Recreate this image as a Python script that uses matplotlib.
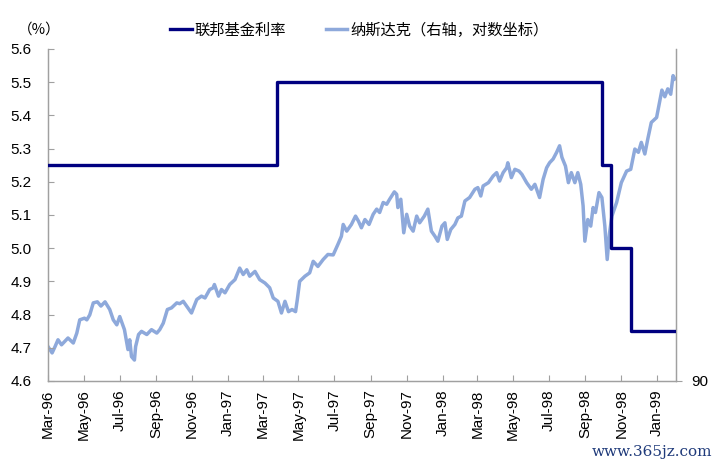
import matplotlib
matplotlib.use("Agg")
import matplotlib.pyplot as plt
import matplotlib.dates as mdates
import numpy as np
import pandas as pd

plt.rcParams['font.family'] = ['Liberation Sans', 'Noto Sans CJK SC']

# fed funds target rate (%), step changes
fed_dates = ['1996-03-01', '1997-03-25', '1998-09-29', '1998-10-15', '1998-11-17', '1999-02-01']
fed_rate = [5.25, 5.50, 5.25, 5.00, 4.75, 4.75]

# nasdaq composite (right axis, log)
nasdaq_dates = [
    '1996-03-01', '1996-03-08', '1996-03-13', '1996-03-18', '1996-03-24', '1996-04-04',
    '1996-04-13', '1996-04-19', '1996-04-24', '1996-05-02', '1996-05-06', '1996-05-11',
    '1996-05-17', '1996-05-24', '1996-05-30', '1996-06-06', '1996-06-14', '1996-06-20',
    '1996-06-26', '1996-07-01', '1996-07-09', '1996-07-15', '1996-07-18', '1996-07-21',
    '1996-07-26', '1996-07-28', '1996-08-02', '1996-08-07', '1996-08-16', '1996-08-24',
    '1996-09-02', '1996-09-07', '1996-09-13', '1996-09-20', '1996-09-27', '1996-10-06',
    '1996-10-11', '1996-10-17', '1996-10-25', '1996-10-31', '1996-11-09', '1996-11-17',
    '1996-11-23', '1996-12-01', '1996-12-07', '1996-12-09', '1996-12-16', '1996-12-21',
    '1996-12-27', '1997-01-04', '1997-01-13', '1997-01-21', '1997-01-27', '1997-02-02',
    '1997-02-07', '1997-02-16', '1997-02-24', '1997-03-05', '1997-03-13', '1997-03-19',
    '1997-03-27', '1997-04-02', '1997-04-08', '1997-04-14', '1997-04-20', '1997-04-26',
    '1997-04-29', '1997-05-03', '1997-05-12', '1997-05-20', '1997-05-26', '1997-06-03',
    '1997-06-12', '1997-06-20', '1997-06-29', '1997-07-07', '1997-07-13', '1997-07-16',
    '1997-07-22', '1997-07-30', '1997-08-06', '1997-08-11', '1997-08-16', '1997-08-22',
    '1997-08-29', '1997-09-05', '1997-09-11', '1997-09-16', '1997-09-22', '1997-09-28',
    '1997-10-03', '1997-10-11', '1997-10-15', '1997-10-17', '1997-10-22', '1997-10-27',
    '1997-11-01', '1997-11-06', '1997-11-12', '1997-11-18', '1997-11-23', '1997-12-01',
    '1997-12-07', '1997-12-13', '1997-12-19', '1997-12-24', '1997-12-31', '1998-01-05',
    '1998-01-09', '1998-01-15', '1998-01-22', '1998-01-27', '1998-02-02', '1998-02-08',
    '1998-02-16', '1998-02-25', '1998-03-02', '1998-03-07', '1998-03-11', '1998-03-20',
    '1998-03-28', '1998-04-03', '1998-04-08', '1998-04-14', '1998-04-20', '1998-04-22',
    '1998-04-28', '1998-05-04', '1998-05-11', '1998-05-16', '1998-05-24', '1998-06-01',
    '1998-06-07', '1998-06-15', '1998-06-21', '1998-06-27', '1998-07-02', '1998-07-08',
    '1998-07-14', '1998-07-19', '1998-07-23', '1998-07-29', '1998-08-03', '1998-08-08',
    '1998-08-14', '1998-08-19', '1998-08-24', '1998-08-28', '1998-08-31', '1998-09-05',
    '1998-09-10', '1998-09-14', '1998-09-18', '1998-09-24', '1998-09-29', '1998-10-04',
    '1998-10-08', '1998-10-12', '1998-10-16', '1998-10-24', '1998-11-01', '1998-11-10',
    '1998-11-17', '1998-11-24', '1998-11-30', '1998-12-05', '1998-12-11', '1998-12-16',
    '1998-12-22', '1998-12-31', '1999-01-05', '1999-01-09', '1999-01-14', '1999-01-19',
    '1999-01-24', '1999-01-28', '1999-01-31',
]
nasdaq_values = [
    1092, 1071, 1092, 1115, 1098, 1121,
    1104, 1138, 1185, 1191, 1185, 1203,
    1248, 1252, 1236, 1252, 1223, 1185,
    1167, 1197, 1150, 1082, 1115, 1059,
    1048, 1092, 1133, 1144, 1133, 1150,
    1138, 1150, 1173, 1223, 1229, 1248,
    1245, 1254, 1229, 1210, 1261, 1274,
    1267, 1300, 1307, 1320, 1274, 1300,
    1287, 1320, 1340, 1388, 1361, 1381,
    1354, 1374, 1340, 1326, 1307, 1267,
    1254, 1210, 1254, 1215, 1223, 1215,
    1261, 1333, 1354, 1368, 1417, 1395,
    1425, 1447, 1445, 1492, 1530, 1586,
    1554, 1586, 1627, 1602, 1570, 1610,
    1586, 1636, 1662, 1645, 1696, 1687,
    1713, 1752, 1739, 1670, 1713, 1546,
    1636, 1578, 1554, 1627, 1594, 1627,
    1662, 1554, 1530, 1507, 1578, 1594,
    1515, 1562, 1586, 1618, 1627, 1704,
    1722, 1766, 1775, 1730, 1784, 1802,
    1839, 1858, 1811, 1858, 1886, 1915,
    1830, 1877, 1867, 1848, 1802, 1766,
    1793, 1722, 1820, 1886, 1915, 1937,
    1977, 2017, 1947, 1896, 1802, 1858,
    1802, 1858, 1793, 1679, 1507, 1610,
    1578, 1670, 1645, 1748, 1722, 1578,
    1425, 1546, 1627, 1696, 1802, 1867,
    1877, 1997, 1977, 2038, 1967, 2059,
    2166, 2199, 2304, 2391, 2343, 2400,
    2361, 2499, 2474,
]

left_ticks = [4.6, 4.7, 4.8, 4.9, 5.0, 5.1, 5.2, 5.3, 5.4, 5.5, 5.6]

fed_color = '#000080'
nasdaq_color = '#8EA9DB'
spine_color = '#A0A0A0'

fig = plt.figure(figsize=(7.19, 4.66), dpi=100)
ax = fig.add_axes([48 / 719, 1 - 381 / 466, 628 / 719, 332 / 466])
ax2 = ax.twinx()

# fed funds on left axis
ax.step(pd.to_datetime(fed_dates), fed_rate, where='post', color=fed_color, lw=2.4,
        label='联邦基金利率', zorder=3)

# nasdaq on right log axis
ax2.plot(pd.to_datetime(nasdaq_dates), nasdaq_values, color=nasdaq_color, lw=2.5,
         label='纳斯达克（右轴，对数坐标）')
ax2.set_yscale('log')
ax2.set_ylim(983, 2711)
ax2.set_yticks([983])
ax2.set_yticklabels(['90'])
ax2.yaxis.set_minor_locator(matplotlib.ticker.NullLocator())
ax2.tick_params(axis='y', direction='out', length=4, width=0.8, color=spine_color,
                labelsize=11, pad=7)

# left axis
ax.set_ylim(4.6, 5.6)
ax.set_yticks(left_ticks)
ax.yaxis.set_major_formatter(matplotlib.ticker.FormatStrFormatter('%.1f'))
ax.tick_params(axis='y', direction='in', length=4, width=0.8, color=spine_color,
               labelsize=11, pad=12)

# date axis
ax.set_xlim(pd.Timestamp('1996-03-01'), pd.Timestamp('1999-02-02'))
ax.xaxis.set_major_locator(mdates.MonthLocator(bymonth=[1, 3, 5, 7, 9, 11]))
ax.xaxis.set_major_formatter(mdates.DateFormatter('%b-%y'))
ax.tick_params(axis='x', direction='in', length=4, width=0.8, color=spine_color,
               labelsize=11, pad=6, labelrotation=90)

for a in (ax, ax2):
    a.spines['top'].set_visible(False)
    for side in ('left', 'bottom', 'right'):
        a.spines[side].set_color(spine_color)
        a.spines[side].set_linewidth(0.9)

ax.set_zorder(ax2.get_zorder() + 1)
ax.patch.set_visible(False)

# legend and labels
handles = ax.get_lines()[:1] + ax2.get_lines()[:1]
fig.legend(handles, [h.get_label() for h in handles], loc='center',
           bbox_to_anchor=(0.5, 1 - 30 / 466), ncol=2, frameon=False,
           fontsize=11, handlelength=1.4, handletextpad=0.2, columnspacing=2.6)

fig.text(18 / 719, 1 - 30 / 466, '（%）', fontsize=10.5, va='center', ha='left',
         family=['Noto Sans CJK SC'])
fig.text(712 / 719, 1 - 452 / 466, 'www.365jz.com', fontsize=11, va='center', ha='right',
         color='#1F3A7A', family='DejaVu Serif')

fig.savefig('out.png', dpi=100)
